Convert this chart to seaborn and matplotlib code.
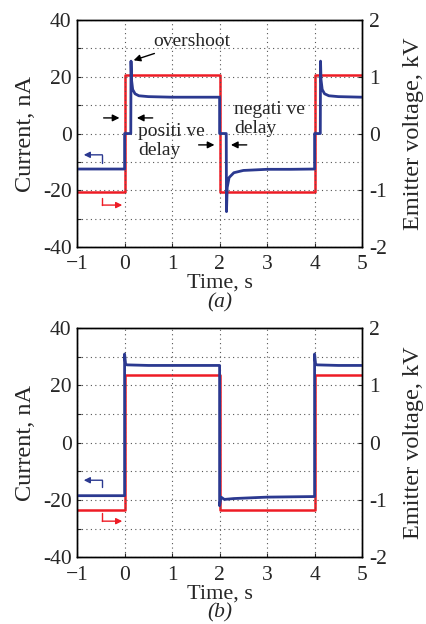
import matplotlib
matplotlib.use("Agg")
import matplotlib.pyplot as plt
import seaborn as sns

sns.set_style("ticks")
plt.rcParams['font.family'] = ['Liberation Serif', 'DejaVu Serif']

BLUE = '#2b3990'
RED = '#ee1c25'

# ---------------- panel (a) ----------------
t_cur_a = [-1, 0, 0, 0.13, 0.135, 0.145, 0.17, 0.22, 0.3, 0.5, 1.0, 1.5, 2.0,
           2.0, 2.14, 2.145, 2.16, 2.2, 2.3, 2.5, 3.0, 3.5, 4.0,
           4.0, 4.12, 4.125, 4.135, 4.16, 4.21, 4.3, 4.5, 5.0]
cur_a = [-12.5, -12.5, 0, 0, 25.5, 19, 15.5, 14, 13.3, 13, 12.8, 12.8, 12.8,
         0, 0, -27.5, -19, -15.5, -13.8, -13, -12.6, -12.6, -12.5,
         0, 0, 25.5, 19, 15.5, 14, 13.3, 13, 12.8]
t_volt = [-1, 0, 0, 2, 2, 4, 4, 5]
volt_a = [-1.03, -1.03, 1.03, 1.03, -1.03, -1.03, 1.03, 1.03]

# ---------------- panel (b) ----------------
t_cur_b = [-1, 0, 0, 0.02, 0.05, 0.5, 1.0, 1.5, 2.0,
           2.0, 2.03, 2.1, 2.3, 3.0, 4.0,
           4.0, 4.02, 4.05, 4.5, 5.0]
cur_b = [-18.5, -18.5, 31, 27.5, 27.2, 27, 27, 27, 27,
         -22, -19, -19.8, -19.5, -19, -18.8,
         31, 27.5, 27.2, 27, 27]
volt_b = [-1.17, -1.17, 1.18, 1.18, -1.17, -1.17, 1.18, 1.18]

x_ticks = [-1, 0, 1, 2, 3, 4, 5]
x_labels = ['\u22121', '0', '1', '2', '3', '4', '5']
cur_ticks = [-40, -30, -20, -10, 0, 10, 20, 30, 40]
cur_labels = ['-40', '', '-20', '', '0', '', '20', '', '40']
volt_ticks = [-2, -1, 0, 1, 2]
volt_labels = ['-2', '-1', '0', '1', '2']


def draw_panel(ax, t_cur, cur, volt, tag):
    ax2 = ax.twinx()
    sns.lineplot(x=t_volt, y=volt, ax=ax2, color=RED, lw=1.8,
                 estimator=None, sort=False)
    sns.lineplot(x=t_cur, y=cur, ax=ax, color=BLUE, lw=2.0,
                 estimator=None, sort=False)
    ax.set_zorder(ax2.get_zorder() + 1)
    ax.patch.set_visible(False)

    ax.set_xlim(-1, 5)
    ax.set_ylim(-40, 40)
    ax2.set_ylim(-2, 2)
    ax.set_xticks(x_ticks)
    ax.set_xticklabels(x_labels, fontsize=15.5)
    ax.set_yticks(cur_ticks)
    ax.set_yticklabels(cur_labels, fontsize=15.5)
    ax2.set_yticks(volt_ticks)
    ax2.set_yticklabels(volt_labels, fontsize=15.5)
    ax.tick_params(axis='y', direction='in', length=3, pad=4)
    ax.tick_params(axis='x', direction='in', length=3, pad=6)
    ax2.tick_params(direction='in', length=3, pad=5)
    ax.grid(True, ls=(0, (1, 3)), color='#555555', lw=0.8)
    for a in (ax, ax2):
        for s in a.spines.values():
            s.set_linewidth(1.0)
            s.set_color('black')
    ax.set_xlabel('Time, s', fontsize=16)
    ax.set_ylabel('Current, nA', fontsize=17.5)
    ax2.set_ylabel('Emitter voltage, kV', fontsize=17.5)
    for lab in (ax.xaxis.label, ax.yaxis.label, ax2.yaxis.label):
        lab.set_verticalalignment('center')
    ax.xaxis.set_label_coords(0.5, -0.16)
    ax.yaxis.set_label_coords(-0.182, 0.5)
    ax2.yaxis.set_label_coords(1.18, 0.5)
    ax.text(0.5, -0.245, '(' + tag + ')', transform=ax.transAxes,
            ha='center', va='center', fontsize=15.5, style='italic')
    return ax2


fig = plt.figure(figsize=(4.26, 6.24), dpi=100)
ax_a = fig.add_axes([0.181, 0.604, 0.669, 0.364])
ax_b = fig.add_axes([0.181, 0.107, 0.669, 0.367])

draw_panel(ax_a, t_cur_a, cur_a, volt_a, 'a')
draw_panel(ax_b, t_cur_b, cur_b, volt_b, 'b')

arrow_k = dict(arrowstyle='-|>', color='black', lw=1, mutation_scale=10)

# annotations, panel (a)
ax_a.annotate('', xy=(-0.05, 5.5), xytext=(-0.5, 5.5), arrowprops=arrow_k)
ax_a.annotate('', xy=(0.2, 5.5), xytext=(0.65, 5.5), arrowprops=arrow_k)
ax_a.text(0.28, 0.8, 'positi ve', fontsize=14, va='center', ha='left')
ax_a.text(0.28, -5.8, 'delay', fontsize=14, va='center', ha='left')

ax_a.annotate('', xy=(1.95, -4.0), xytext=(1.5, -4.0), arrowprops=arrow_k)
ax_a.annotate('', xy=(2.18, -4.0), xytext=(2.63, -4.0), arrowprops=arrow_k)
ax_a.text(2.3, 8.3, 'negati ve', fontsize=14, va='center', ha='left')
ax_a.text(2.3, 1.6, 'delay', fontsize=14, va='center', ha='left')

ax_a.annotate('overshoot', xy=(0.19, 25.8), xytext=(0.6, 32.5), fontsize=14,
              va='center', ha='left',
              arrowprops=dict(arrowstyle='-|>', color='black', lw=1,
                              mutation_scale=10, shrinkA=1, shrinkB=0))


def axis_arrows(ax, yb_top, yb_bot, yr_top, yr_bot):
    ax.plot([-0.47, -0.47], [yb_top, yb_bot], color=BLUE, lw=1)
    ax.annotate('', xy=(-0.86, yb_top), xytext=(-0.47, yb_top),
                arrowprops=dict(arrowstyle='-|>', color=BLUE, lw=1,
                                mutation_scale=9, shrinkA=0, shrinkB=0))
    ax.plot([-0.47, -0.47], [yr_top, yr_bot], color=RED, lw=1)
    ax.annotate('', xy=(-0.05, yr_bot), xytext=(-0.47, yr_bot),
                arrowprops=dict(arrowstyle='-|>', color=RED, lw=1,
                                mutation_scale=9, shrinkA=0, shrinkB=0))


axis_arrows(ax_a, -7.5, -10.4, -22.7, -25.2)
axis_arrows(ax_b, -13.1, -15.5, -24.6, -27.4)

fig.savefig('out.png', dpi=100)
